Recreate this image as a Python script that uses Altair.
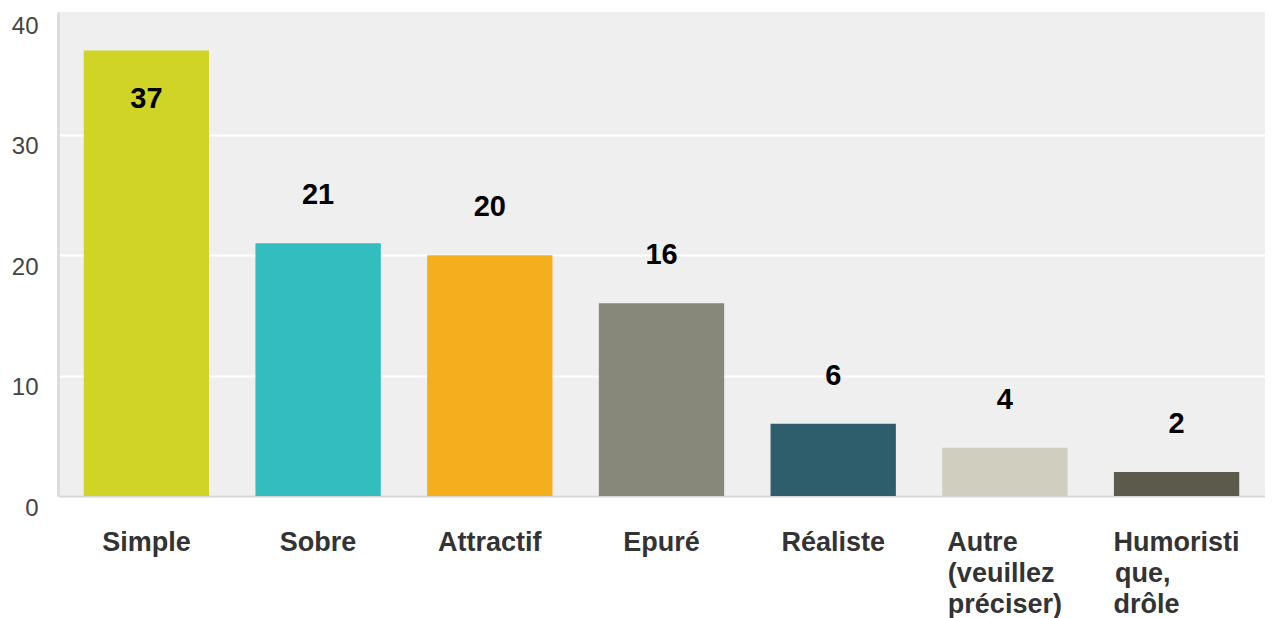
import altair as alt
import pandas as pd

categories = ["Simple", "Sobre", "Attractif", "Epuré", "Réaliste",
              "Autre (veuillez préciser)", "Humoristique, drôle"]
label_lines = [["Simple"], ["Sobre"], ["Attractif"], ["Epuré"], ["Réaliste"],
               ["Autre", "(veuillez", "préciser)"],
               ["Humoristi", "que,", "drôle"]]
values = [37, 21, 20, 16, 6, 4, 2]
colors = ["#cfd427", "#33bdbf", "#f5ae1e", "#88887a", "#2e5e6b", "#cfcebf", "#5c5a4a"]
y_ticks = [0, 10, 20, 30, 40]

# approximate Arial Bold advance widths (em) to left-align wrapped lines inside a centred block
W = {"A": .722, "u": .611, "t": .333, "r": .389, "e": .556, "(": .333, "v": .556,
     "i": .278, "l": .278, "z": .5, "p": .611, "é": .556, "c": .556, "s": .556,
     ")": .333, "H": .722, "m": .889, "o": .611, "q": .611, ",": .278, "d": .611, "ô": .611}
NBSP = "\u00a0"
ZWSP = "\u200b"


def pad(lines):
    if len(lines) == 1:
        return lines[0]
    widths = [sum(W.get(ch, .556) for ch in ln) for ln in lines]
    mx = max(widths)
    out = []
    for ln, w in zip(lines, widths):
        n = round((mx - w) / 0.278)
        out.append(ln + NBSP * n + (ZWSP if n else ""))
    return "|".join(out)


labels = [pad(l) for l in label_lines]

df = pd.DataFrame({"categorie": categories, "label": labels, "valeur": values})

x_enc = alt.X("label:N", sort=None, title=None,
              scale=alt.Scale(paddingInner=0.27, paddingOuter=0.15),
              axis=alt.Axis(labelExpr="split(datum.label, '|')", labelAngle=0,
                            labelFont="Liberation Sans", labelFontSize=27,
                            labelFontWeight="bold", labelColor="#333333",
                            labelLineHeight=31, labelPadding=33, ticks=False,
                            domain=True, domainColor="#d6d6d6", domainWidth=2,
                            grid=False, labelBaseline="top"))

bars = alt.Chart(df).mark_bar().encode(
    x=x_enc,
    y=alt.Y("valeur:Q", title=None,
            scale=alt.Scale(domain=[0, 40.2], nice=False),
            axis=alt.Axis(values=y_ticks, ticks=False, labelFont="Liberation Sans",
                          labelFontSize=24, labelColor="#444444", labelPadding=20,
                          labelBaseline="top", domain=True, domainColor="#dcdcdc",
                          domainWidth=3, gridColor="#ffffff", gridWidth=2,
                          gridOpacity={"condition": {"test": "datum.value >= 40", "value": 0},
                                       "value": 1})),
    color=alt.Color("label:N", sort=None, legend=None,
                    scale=alt.Scale(domain=labels, range=colors)),
)

text = alt.Chart(df).transform_calculate(
    pos="datum.valeur + 4 <= 40 ? datum.valeur + 4 : datum.valeur - 4"
).mark_text(font="Liberation Sans", fontSize=29, fontWeight="bold",
            color="#000000", baseline="middle", align="center").encode(
    x=alt.X("label:N", sort=None),
    y=alt.Y("pos:Q"),
    text=alt.Text("valeur:Q"),
)

chart = alt.layer(bars, text).properties(
    width=1207, height=484,
    autosize=alt.AutoSizeParams(type="none"),
    padding={"left": 50, "top": 4, "right": 0, "bottom": 122},
    background="#ffffff",
).configure_view(fill="#efefef", stroke=None)

chart.save("out.html", embed_options={"renderer": "svg", "actions": False})
